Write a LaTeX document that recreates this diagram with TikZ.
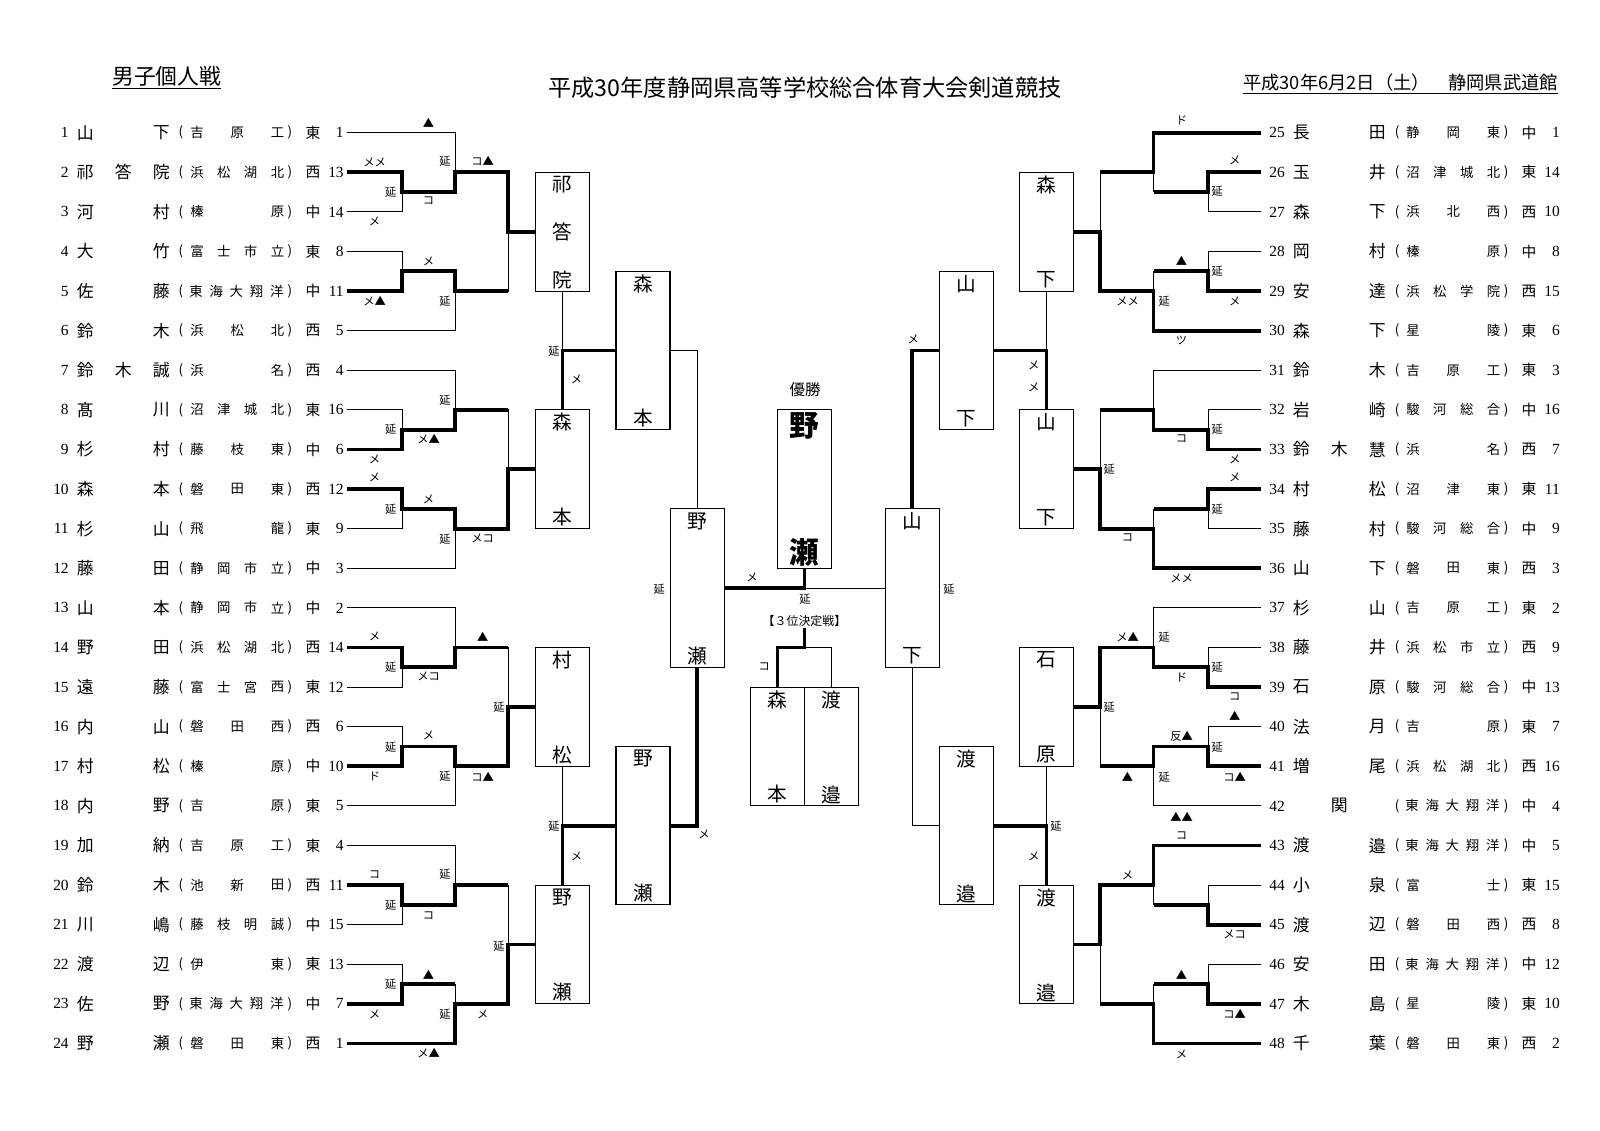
\documentclass[tikz,border=0pt]{standalone}
\usepackage{fontspec}
\usepackage{tikz}
\usetikzlibrary{positioning}
\setmainfont{Liberation Serif}
\newfontfamily\jp{Noto Sans CJK JP}

% y of a bracket row (px from the top)
\pgfmathdeclarefunction{ry}{1}{\pgfmathparse{93.1+39.6*#1}}

% one entry: number, name (3 cells), school, region, seed
\newcommand\player[7]{%
  \pgfmathtruncatemacro\pp{#1>24 ? #1-24 : #1}%
  \pgfmathsetmacro\ox{#1>24 ? 1216 : 0}%
  \pgfmathsetmacro\py{ry(\pp)}%
  \node[pnum, anchor=east] (no#1) at (\ox+69,\py) {#1};
  \node[pname] (na#1) at (\ox+85.4,\py) {#2};
  \node[pname] (nb#1) at (\ox+123.2,\py) {#3};
  \node[pname] (nc#1) at (\ox+161.4,\py) {#4};
  \node[sch] (pl#1) at (\ox+181,\py) {(};
  \node[sch] (pr#1) at (\ox+290,\py) {)};
  \foreach \ch [count=\sk] in {#5} {\xdef\nch{\sk}}
  \foreach \ch [count=\sk] in {#5} {
    \pgfmathsetmacro\sx{\nch==5 ? 196+(\sk-1)*20.2 : 197+(\sk-1)*80.5/(\nch-1)}
    \node[sch] (sc#1-\sk) at (\ox+\sx,\py) {\ch};
  }
  \node[reg] (rg#1) at (\ox+313,\py) {#6};
  \node[pnum, anchor=east] (sd#1) at (\ox+344,\py) {#7};
}

% thin frame of a block of six: first row, x of start, round 1, round 2, round 3, box edge
\newcommand\sixthin[6]{%
  \draw[thinl] (#2,{ry(#1)}) -| (#4,{ry(#1+1.5)});
  \draw[thinl] (#2,{ry(#1+1)}) -| (#3,{ry(#1+2)}) -- (#2,{ry(#1+2)});
  \draw[thinl] (#3,{ry(#1+1.5)}) -- (#4,{ry(#1+1.5)});
  \draw[thinl] (#2,{ry(#1+3)}) -| (#3,{ry(#1+4)}) -- (#2,{ry(#1+4)});
  \draw[thinl] (#3,{ry(#1+3.5)}) -- (#4,{ry(#1+3.5)});
  \draw[thinl] (#2,{ry(#1+5)}) -| (#4,{ry(#1+3.5)});
  \draw[thinl] (#4,{ry(#1+1)}) -| (#5,{ry(#1+4)}) -- (#4,{ry(#1+4)});
  \draw[thinl] (#5,{ry(#1+2.5)}) -- (#6,{ry(#1+2.5)});
}

% names in a result box
\newcommand\boxnames[3]{%
  \node[bname] (#1t) at ([yshift=-3.25mm]#1.north) {#2};
  \node[bname] (#1b) at ([yshift=3mm]#1.south) {#3};
}

\begin{document}
\begin{tikzpicture}[x=0.25mm, y=-0.25mm,
  thinl/.style={line width=0.7pt},
  win/.style={line width=2.6pt},
  pnum/.style={font=\fontsize{11}{12}\selectfont, inner sep=0pt},
  pname/.style={font=\jp\fontsize{12}{13}\selectfont, inner sep=0pt},
  sch/.style={font=\jp\fontsize{9.5}{10}\selectfont, inner sep=0pt},
  reg/.style={font=\jp\fontsize{10.5}{11}\selectfont, inner sep=0pt},
  scr/.style={font=\jp\fontsize{8}{9}\selectfont, inner sep=0pt},
  bx/.style={draw, line width=0.8pt, inner sep=0pt, minimum width=13.5mm},
  bname/.style={font=\jp\fontsize{14}{15}\selectfont, inner sep=0pt}]
  \useasboundingbox (0,0) rectangle (1600,1130);
  \fill[white] (0,0) rectangle (1600,1130);

  % headings
  \node[font=\jp\fontsize{15.5}{16}\selectfont] (kind) at (166.8,77.5) {\underline{男子個人戦}};
  \node[font=\jp\fontsize{16.5}{17}\selectfont] (title) at (805,87.8) {平成30年度静岡県高等学校総合体育大会剣道競技};
  \node[font=\jp\fontsize{13}{14}\selectfont] (date) at (1400.5,83.7) {\underline{平成30年6月2日（土）\quad{}静岡県武道館}};

  % line ends of the entries
  \foreach \i in {1,...,24} \coordinate (a\i) at (347,{ry(\i)});
  \foreach \i [evaluate=\i as \j using int(\i-24)] in {25,...,48} \coordinate (a\i) at (1261,{ry(\j)});

  % entries, left
  \player{1}{山}{}{下}{吉,原,工}{東}{1}
  \player{2}{祁}{答}{院}{浜,松,湖,北}{西}{13}
  \player{3}{河}{}{村}{榛,原}{中}{14}
  \player{4}{大}{}{竹}{富,士,市,立}{東}{8}
  \player{5}{佐}{}{藤}{東,海,大,翔,洋}{中}{11}
  \player{6}{鈴}{}{木}{浜,松,北}{西}{5}
  \player{7}{鈴}{木}{誠}{浜,名}{西}{4}
  \player{8}{髙}{}{川}{沼,津,城,北}{東}{16}
  \player{9}{杉}{}{村}{藤,枝,東}{中}{6}
  \player{10}{森}{}{本}{磐,田,東}{西}{12}
  \player{11}{杉}{}{山}{飛,龍}{東}{9}
  \player{12}{藤}{}{田}{静,岡,市,立}{中}{3}
  \player{13}{山}{}{本}{静,岡,市,立}{中}{2}
  \player{14}{野}{}{田}{浜,松,湖,北}{西}{14}
  \player{15}{遠}{}{藤}{富,士,宮,西}{東}{12}
  \player{16}{内}{}{山}{磐,田,西}{西}{6}
  \player{17}{村}{}{松}{榛,原}{中}{10}
  \player{18}{内}{}{野}{吉,原}{東}{5}
  \player{19}{加}{}{納}{吉,原,工}{東}{4}
  \player{20}{鈴}{}{木}{池,新,田}{西}{11}
  \player{21}{川}{}{嶋}{藤,枝,明,誠}{中}{15}
  \player{22}{渡}{}{辺}{伊,東}{東}{13}
  \player{23}{佐}{}{野}{東,海,大,翔,洋}{中}{7}
  \player{24}{野}{}{瀬}{磐,田,東}{西}{1}
  % entries, right
  \player{25}{長}{}{田}{静,岡,東}{中}{1}
  \player{26}{玉}{}{井}{沼,津,城,北}{東}{14}
  \player{27}{森}{}{下}{浜,北,西}{西}{10}
  \player{28}{岡}{}{村}{榛,原}{中}{8}
  \player{29}{安}{}{達}{浜,松,学,院}{西}{15}
  \player{30}{森}{}{下}{星,陵}{東}{6}
  \player{31}{鈴}{}{木}{吉,原,工}{東}{3}
  \player{32}{岩}{}{崎}{駿,河,総,合}{中}{16}
  \player{33}{鈴}{木}{慧}{浜,名}{西}{7}
  \player{34}{村}{}{松}{沼,津,東}{東}{11}
  \player{35}{藤}{}{村}{駿,河,総,合}{中}{9}
  \player{36}{山}{}{下}{磐,田,東}{西}{3}
  \player{37}{杉}{}{山}{吉,原,工}{東}{2}
  \player{38}{藤}{}{井}{浜,松,市,立}{西}{9}
  \player{39}{石}{}{原}{駿,河,総,合}{中}{13}
  \player{40}{法}{}{月}{吉,原}{東}{7}
  \player{41}{増}{}{尾}{浜,松,湖,北}{西}{16}
  \player{42}{}{関}{}{東,海,大,翔,洋}{中}{4}
  \player{43}{渡}{}{邉}{東,海,大,翔,洋}{中}{5}
  \player{44}{小}{}{泉}{富,士}{東}{15}
  \player{45}{渡}{}{辺}{磐,田,西}{西}{8}
  \player{46}{安}{}{田}{東,海,大,翔,洋}{中}{12}
  \player{47}{木}{}{島}{星,陵}{東}{10}
  \player{48}{千}{}{葉}{磐,田,東}{西}{2}

  % result boxes
  \node[bx, minimum height=29.7mm] (b1) at (562.5,{ry(3.5)}) {};
  \node[bx, minimum height=29.7mm] (b2) at (562.5,{ry(9.5)}) {};
  \node[bx, minimum height=29.7mm] (b3) at (562.5,{ry(15.5)}) {};
  \node[bx, minimum height=29.7mm] (b4) at (562.5,{ry(21.5)}) {};
  \node[bx, minimum height=29.7mm] (b5) at (1046.5,{ry(3.5)}) {};
  \node[bx, minimum height=29.7mm] (b6) at (1046.5,{ry(9.5)}) {};
  \node[bx, minimum height=29.7mm] (b7) at (1046.5,{ry(15.5)}) {};
  \node[bx, minimum height=29.7mm] (b8) at (1046.5,{ry(21.5)}) {};
  \node[bx, minimum height=39.6mm] (c1) at (643,{ry(6.5)}) {};
  \node[bx, minimum height=39.6mm] (c2) at (643,{ry(18.5)}) {};
  \node[bx, minimum height=39.6mm] (c3) at (966.3,{ry(6.5)}) {};
  \node[bx, minimum height=39.6mm] (c4) at (966.3,{ry(18.5)}) {};
  \node[bx, minimum height=39.6mm] (s1) at (697.2,{ry(12.5)}) {};
  \node[bx, minimum height=39.6mm] (s2) at (912.2,{ry(12.5)}) {};
  \node[bx, minimum height=39.6mm] (f) at (804.5,{ry(10)}) {};
  \node[bx, minimum height=29.7mm, minimum width=13.45mm] (t1) at (777.6,{ry(16.5)}) {};
  \node[bx, minimum height=29.7mm, minimum width=13.45mm] (t2) at (831.4,{ry(16.5)}) {};

  \boxnames{b1}{祁}{院}
  \node[bname] (b1m) at (b1) {答};
  \boxnames{b2}{森}{本}
  \boxnames{b3}{村}{松}
  \boxnames{b4}{野}{瀬}
  \boxnames{b5}{森}{下}
  \boxnames{b6}{山}{下}
  \boxnames{b7}{石}{原}
  \boxnames{b8}{渡}{邉}
  \boxnames{c1}{森}{本}
  \boxnames{c2}{野}{瀬}
  \boxnames{c3}{山}{下}
  \boxnames{c4}{渡}{邉}
  \boxnames{s1}{野}{瀬}
  \boxnames{s2}{山}{下}
  \boxnames{t1}{森}{本}
  \boxnames{t2}{渡}{邉}
  \node[font=\jp\bfseries\fontsize{21}{22}\selectfont, inner sep=0pt] (ft) at ([yshift=-4.1mm]f.north) {野};
  \node[font=\jp\bfseries\fontsize{21}{22}\selectfont, inner sep=0pt] (fb) at ([yshift=4.1mm]f.south) {瀬};
  \node[font=\jp\fontsize{11}{12}\selectfont] (champ) at (805,389.8) {優勝};
  \node[font=\jp\fontsize{8.5}{9}\selectfont, inner sep=1pt] (third) at (804.5,621) {【３位決定戦】};

  % thin frames
  \sixthin{1}{347}{402}{455}{508}{535.5}
  \sixthin{7}{347}{402}{455}{508}{535.5}
  \sixthin{13}{347}{402}{455}{508}{535.5}
  \sixthin{19}{347}{402}{455}{508}{535.5}
  \sixthin{1}{1261}{1208}{1153.5}{1100}{1074}
  \sixthin{7}{1261}{1208}{1153.5}{1100}{1074}
  \sixthin{13}{1261}{1208}{1153.5}{1100}{1074}
  \sixthin{19}{1261}{1208}{1153.5}{1100}{1074}

  % winners, left
  \draw[win] (a2) -| (402,{ry(2.5)}) -| (455,{ry(2)}) -| (508,{ry(3.5)}) -- (b1.west);
  \draw[win] (a5) -| (402,{ry(4.5)}) -| (455,{ry(5)}) -- (508,{ry(5)});
  \draw[win] (a9) -| (402,{ry(8.5)}) -| (455,{ry(8)}) -- (508,{ry(8)});
  \draw[win] (a10) -| (402,{ry(10.5)}) -| (455,{ry(11)}) -| (508,{ry(9.5)}) -- (b2.west);
  \draw[win] (a14) -| (402,{ry(14.5)}) -| (455,{ry(14)}) -- (508,{ry(14)});
  \draw[win] (a17) -| (402,{ry(16.5)}) -| (455,{ry(17)}) -| (508,{ry(15.5)}) -- (b3.west);
  \draw[win] (a20) -| (402,{ry(20.5)}) -| (455,{ry(20)}) -- (508,{ry(20)});
  \draw[win] (a23) -| (402,{ry(22.5)}) -- (455,{ry(22.5)});
  \draw[win] (a24) -| (455,{ry(23)}) -| (508,{ry(21.5)}) -- (b4.west);
  % winners, right
  \draw[win] (a25) -| (1153.5,{ry(2)}) -- (1100,{ry(2)});
  \draw[win] (a26) -| (1208,{ry(2.5)}) -- (1153.5,{ry(2.5)});
  \draw[win] (a29) -| (1208,{ry(4.5)}) -- (1153.5,{ry(4.5)});
  \draw[win] (a30) -| (1153.5,{ry(5)}) -| (1100,{ry(3.5)}) -- (b5.east);
  \draw[win] (a33) -| (1208,{ry(8.5)}) -| (1153.5,{ry(8)}) -- (1100,{ry(8)});
  \draw[win] (a34) -| (1208,{ry(10.5)}) -- (1153.5,{ry(10.5)});
  \draw[win] (a36) -| (1153.5,{ry(11)}) -| (1100,{ry(9.5)}) -- (b6.east);
  \draw[win] (a39) -| (1208,{ry(14.5)}) -| (1153.5,{ry(14)}) -| (1100,{ry(15.5)}) -- (b7.east);
  \draw[win] (a41) -| (1208,{ry(16.5)}) -| (1153.5,{ry(17)}) -- (1100,{ry(17)});
  \draw[win] (a43) -| (1153.5,{ry(20)}) -| (1100,{ry(21.5)}) -- (b8.east);
  \draw[win] (a45) -| (1208,{ry(20.5)}) -- (1153.5,{ry(20.5)});
  \draw[win] (a47) -| (1208,{ry(22.5)}) -- (1153.5,{ry(22.5)});
  \draw[win] (a48) -| (1153.5,{ry(23)}) -- (1100,{ry(23)});

  % quarter finals
  \draw[thinl] (b1.south) -- (b1.south |- c1.west);
  \draw[win] (b2.north) -- (b2.north |- c1.west) -- (c1.west);
  \draw[thinl] (b3.south) -- (b3.south |- c2.west);
  \draw[win] (b4.north) -- (b4.north |- c2.west) -- (c2.west);
  \draw[thinl] (b5.south) -- (b5.south |- c3.east);
  \draw[win] (b6.north) -- (b6.north |- c3.east) -- (c3.east);
  \draw[thinl] (b7.south) -- (b7.south |- c4.east);
  \draw[win] (b8.north) -- (b8.north |- c4.east) -- (c4.east);
  % semi finals
  \draw[thinl] (c1.east) -| (s1.north);
  \draw[win] (c2.east) -| (s1.south);
  \draw[win] (c3.west) -| (s2.north);
  \draw[thinl] (c4.west) -| (s2.south);
  % final
  \draw[win] (s1.east) -| (f.south);
  \draw[thinl] (s2.west) -- (s2.west -| f.south);
  % third place
  \coordinate (tj) at (804.5,{ry(14)});
  \draw[win] (third.south) -- (tj) -| (t1.north);
  \draw[thinl] (tj) -| (t2.north);

  % scores
  \foreach \x/\y/\t [count=\k] in {
    428.6/122.4/▲, 444.9/161.2/延, 482.7/161.2/コ▲, 374.5/162.2/メメ, 390.8/191.8/延,
    428.6/201/コ, 374.5/221.4/メ, 428.6/261.2/メ, 374.5/301/メ▲, 444.9/301/延,
    554.1/351/延, 576.5/379.6/メ, 444.9/400/延, 390.8/429.6/延, 428.6/438.8/メ▲,
    374.5/459.2/メ, 374.5/477.5/メ, 428.6/499/メ, 390.8/509.2/延, 444.9/538.8/延,
    482.7/538.8/メコ,
    374.5/636.7/メ, 482.7/636.7/▲, 390.8/667.3/延, 428.6/676.5/メコ, 499/707.1/延,
    428.6/735.7/メ, 390.8/747/延, 374.5/776.5/ド, 444.9/776.5/延, 482.7/776.5/コ▲,
    554.1/826.5/延, 576.5/856.1/メ, 374.5/874.5/コ, 444.9/874.5/延, 390.8/905.1/延,
    428.6/915.3/コ, 499/946/延, 428.6/974.5/▲, 390.8/984.7/延, 374.5/1014.3/メ,
    444.9/1014.3/延, 482.7/1014.3/メ, 428.6/1053/メ▲,
    659.2/588.8/延, 752/577.6/メ, 805/599/延, 764.3/666.3/コ, 949/588.8/延,
    704/834/メ, 913.3/339.8/メ, 1033.7/365.3/メ, 1033.7/387.8/メ, 1056/826.5/延,
    1033.7/856.1/メ,
    1181.6/120.5/ド, 1234.7/160.2/メ, 1217.3/190.8/延, 1181.6/261.2/▲, 1217.3/271.4/延,
    1127.5/301/メメ, 1164.3/301/延, 1234.7/301/メ, 1181.6/340.8/ツ,
    1181.6/438.8/コ, 1217.3/429.6/延, 1234.7/459.2/メ, 1109.2/469.4/延, 1234.7/477.5/メ,
    1217.3/509.2/延, 1127.5/537.8/コ, 1181.6/578.6/メメ,
    1127.5/637.5/メ▲, 1164.3/637.5/延, 1217.3/667.3/延, 1181.6/677/ド, 1234.7/697/コ,
    1109.2/707.1/延, 1234.7/716.3/▲, 1181.6/736.5/反▲, 1217.3/747/延, 1127.5/777/▲,
    1164.3/777/延, 1234.7/777/コ▲, 1181.6/817/▲▲,
    1181.6/835.5/コ, 1127.5/875.5/メ, 1234.7/934.5/メコ, 1181.6/975/▲, 1234.7/1014/コ▲,
    1181.6/1054/メ}
    \node[scr] (s\k) at (\x,\y) {\t};
\end{tikzpicture}
\end{document}
